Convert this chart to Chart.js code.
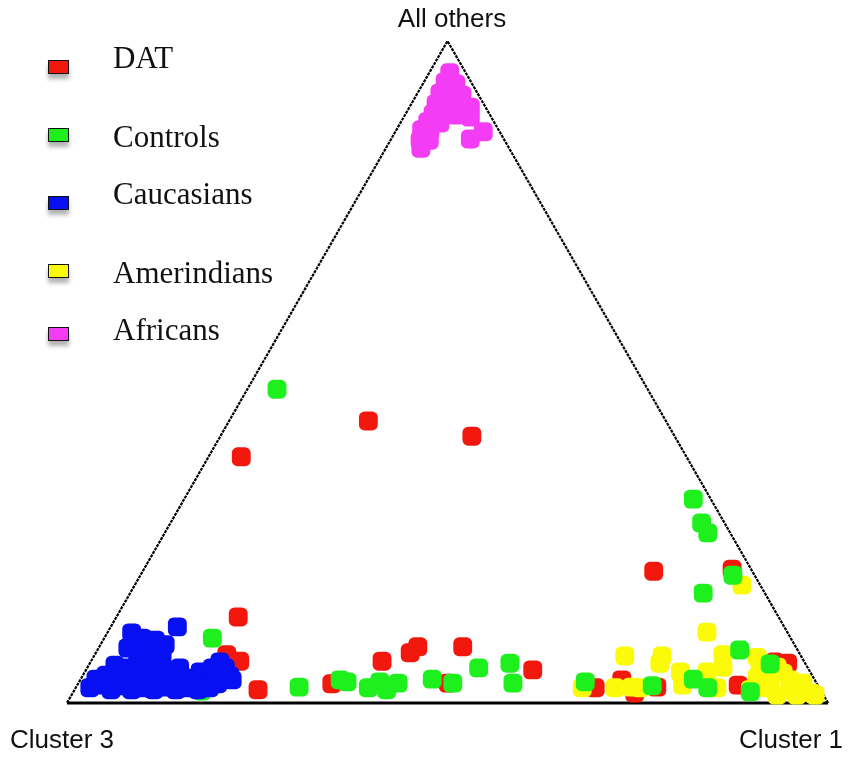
<!DOCTYPE html>
<html>
<head>
<meta charset="utf-8">
<script src="https://cdn.jsdelivr.net/npm/chart.js@4.4.1/dist/chart.umd.min.js"></script>
<style>
  html, body { margin:0; padding:0; background:#fff; }
  #wrap { position:relative; width:850px; height:758px; overflow:hidden; }
  #wrap canvas { position:absolute; left:0; top:0; }
  .vtx { position:absolute; font:26px 'Liberation Sans', Arial, sans-serif; line-height:26px; color:#111; white-space:nowrap; }
  .lg-box { position:absolute; left:48px; width:19px; height:12px; border:1.8px solid #111; box-shadow:0 5px 4px rgba(0,0,0,.3); }
  .lg-txt { position:absolute; left:113px; font:31px 'Liberation Serif', 'DejaVu Serif', serif; line-height:30px; color:#111; white-space:nowrap; }
</style>
</head>
<body>
<div id="wrap"><canvas id="tern"></canvas></div>
<script>
// corner labels: left, right, top
const CORNERS = ['Cluster 3', 'Cluster 1', 'All others'];

const SERIES = ['DAT', 'Controls', 'Caucasians', 'Amerindians', 'Africans'];
const COLORS = ['#f2180e', '#1ef01e', '#0610f2', '#fafa0a', '#f43cf4'];

// x = position along base (Cluster 3 -> Cluster 1), y = "All others" share
const datX = [0.396,0.532,0.229,0.771,0.874,0.225,0.210,0.227,0.251,0.348,0.414,0.451,0.461,0.520,0.612,0.501,0.694,0.729,0.746,0.775,0.882,0.947,0.930];
const datY = [0.426,0.403,0.372,0.199,0.202,0.130,0.073,0.063,0.020,0.029,0.063,0.076,0.085,0.085,0.050,0.030,0.023,0.035,0.015,0.024,0.027,0.060,0.062];

const ctlX = [0.276,0.823,0.834,0.842,0.875,0.836,0.884,0.191,0.305,0.359,0.368,0.396,0.411,0.420,0.435,0.480,0.507,0.541,0.582,0.586,0.681,0.769,0.823,0.842,0.898,0.924,0.177,0.192];
const ctlY = [0.474,0.308,0.272,0.257,0.193,0.166,0.080,0.098,0.024,0.035,0.032,0.023,0.032,0.020,0.030,0.036,0.030,0.053,0.060,0.030,0.032,0.026,0.036,0.023,0.017,0.059,0.018,0.042];

const cauX = [0.085,0.099,0.116,0.129,0.109,0.080,0.093,0.125,0.106,0.145,0.063,0.078,0.092,0.109,0.125,0.060,0.078,0.096,0.116,0.135,0.155,0.175,0.191,0.201,0.214,0.168,0.030,0.045,0.058,0.071,0.085,0.100,0.114,0.129,0.143,0.158,0.172,0.187,0.198,0.217,0.038,0.051,0.208,0.148];
const cauY = [0.106,0.098,0.095,0.088,0.080,0.083,0.073,0.073,0.065,0.115,0.057,0.053,0.057,0.050,0.054,0.041,0.038,0.041,0.035,0.041,0.038,0.047,0.053,0.062,0.041,0.032,0.023,0.027,0.020,0.026,0.020,0.023,0.020,0.024,0.020,0.023,0.020,0.023,0.029,0.035,0.036,0.042,0.053,0.053];

const ameX = [0.841,0.887,0.733,0.782,0.779,0.862,0.907,0.677,0.720,0.742,0.753,0.806,0.809,0.841,0.862,0.854,0.907,0.920,0.941,0.950,0.967,0.979,0.933,0.898,0.959,0.933,0.911,0.924,0.950,0.963,0.983];
const ameY = [0.107,0.178,0.071,0.071,0.060,0.073,0.069,0.023,0.023,0.024,0.023,0.047,0.027,0.047,0.054,0.023,0.039,0.023,0.045,0.020,0.030,0.015,0.054,0.020,0.012,0.012,0.053,0.035,0.035,0.020,0.012];

const afrX = [0.503,0.497,0.511,0.490,0.506,0.519,0.485,0.499,0.515,0.530,0.481,0.495,0.511,0.530,0.474,0.490,0.466,0.477,0.464,0.476,0.465,0.530,0.547];
const afrY = [0.952,0.938,0.935,0.921,0.921,0.918,0.905,0.905,0.905,0.900,0.890,0.888,0.888,0.885,0.878,0.876,0.866,0.864,0.850,0.850,0.838,0.852,0.863];

const SERIES_X = [datX, ctlX, cauX, ameX, afrX];
const SERIES_Y = [datY, ctlY, cauY, ameY, afrY];
// lower order is painted on top
const DRAW_ORDER = [4, 2, 1, 3, 0];

// triangle outline in the same data space
const EDGE_X = [0, 1, 0.5, 0];
const EDGE_Y = [0, 0, 1, 0];

const pts = (xs, ys) => xs.map((x, i) => ({ x, y: ys[i] }));

const datasets = SERIES.map((name, i) => ({
  label: name,
  data: pts(SERIES_X[i], SERIES_Y[i]),
  backgroundColor: COLORS[i],
  borderWidth: 0,
  pointStyle: 'rectRounded',
  pointRadius: 11,
  order: DRAW_ORDER[i],
  clip: false,
}));

datasets.push({
  label: 'frame',
  data: pts(EDGE_X, EDGE_Y),
  showLine: true,
  borderColor: '#000',
  pointRadius: 0,
  order: 10,
  clip: false,
  segment: {
    borderWidth: c => c.p0DataIndex === 0 ? 3 : 2.2,
    borderDash:  c => c.p0DataIndex === 0 ? [] : [3, 1],
  },
});

new Chart(document.getElementById('tern'), {
  type: 'scatter',
  data: { datasets },
  options: {
    responsive: true, maintainAspectRatio: false,
    animation: false,
    layout: { padding: { left: 67, right: 22, top: 41, bottom: 55 } },
    plugins: { legend: { display: false }, tooltip: { enabled: false } },
    scales: {
      x: { type: 'linear', min: 0, max: 1, display: false },
      y: { type: 'linear', min: 0, max: 1, display: false },
    },
  },
});

// legend and corner labels
const wrap = document.getElementById('wrap');
const LEG_BOX_TOP = [60, 128, 196, 264, 327];
const LEG_TXT_TOP = [43, 122, 179, 258, 315];
SERIES.forEach((name, i) => {
  const b = document.createElement('div');
  b.className = 'lg-box';
  b.style.top = LEG_BOX_TOP[i] + 'px';
  b.style.background = COLORS[i];
  wrap.appendChild(b);
  const t = document.createElement('div');
  t.className = 'lg-txt';
  t.style.top = LEG_TXT_TOP[i] + 'px';
  t.textContent = name;
  wrap.appendChild(t);
});

const VTX_POS = [
  { left: '10px', top: '726px' },
  { right: '7px', top: '726px' },
  { left: '452px', top: '5px', transform: 'translateX(-50%)' },
];
CORNERS.forEach((txt, i) => {
  const d = document.createElement('div');
  d.className = 'vtx';
  Object.assign(d.style, VTX_POS[i]);
  d.textContent = txt;
  wrap.appendChild(d);
});
</script>
</body>
</html>
